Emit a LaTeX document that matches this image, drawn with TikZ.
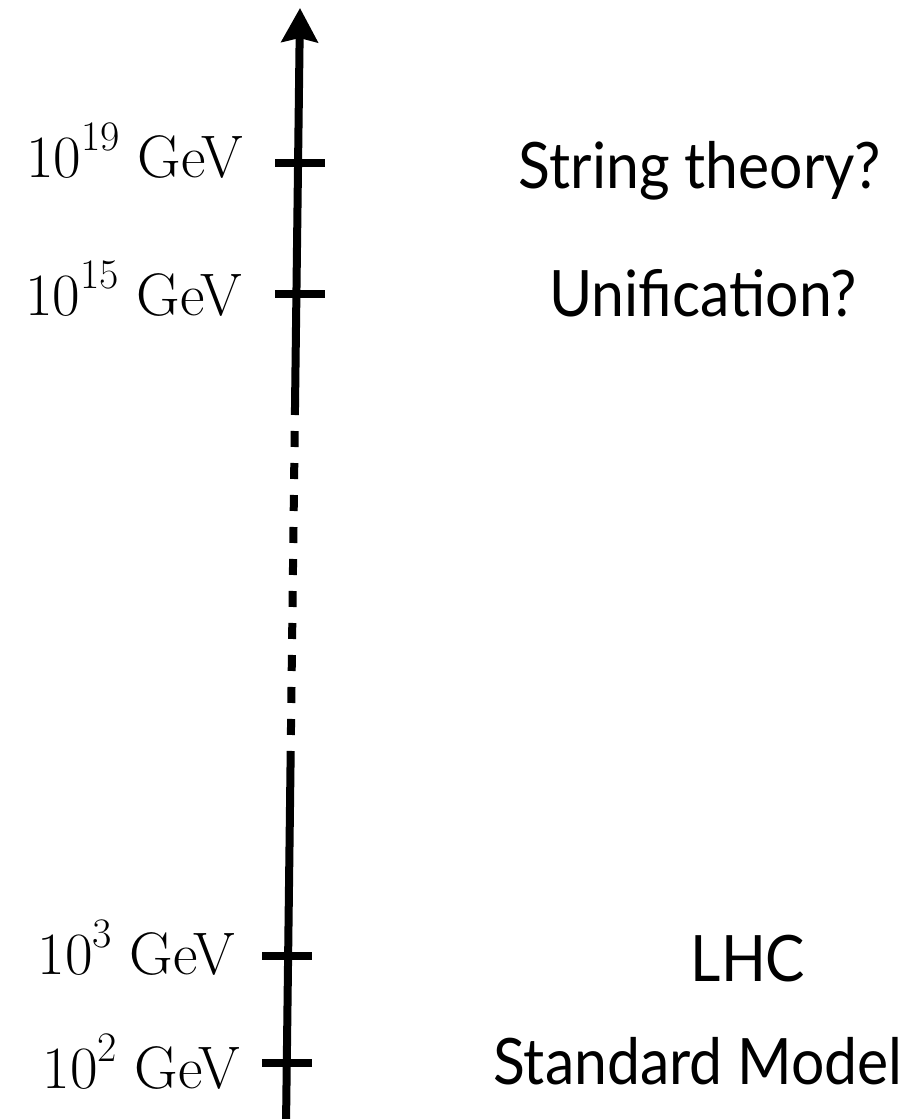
\documentclass[tikz,border=0pt]{standalone}
\usepackage{fontspec}
\newfontfamily\gillish[FakeStretch=0.92]{Lato}
\usetikzlibrary{arrows.meta}
\newcommand{\powten}[1]{10\raisebox{0.44em}{\fontsize{42}{44}\selectfont #1}}
\begin{document}
\begin{tikzpicture}[x=1pt,y=-1pt,
  axis/.style={line width=8pt},
  tick/.style={line width=8pt},
  elabel/.style={anchor=base east,inner sep=0pt,font=\fontsize{60}{66}\selectfont},
  rlabel/.style={anchor=base,inner sep=0pt,font=\gillish\fontsize{64}{70}\selectfont}]
\useasboundingbox (0,0) rectangle (910,1119);
% axis coordinates
\coordinate (bot) at (286,1125);
\coordinate (d1) at (290.5,767);
\coordinate (d2) at (295.1,399);
\coordinate (top) at (300,8);
\draw[axis] (bot) -- (d1);
\draw[axis,dash pattern=on 16pt off 16pt] (d2) -- (d1);
\draw[axis,-{Stealth[length=34pt,width=36pt,inset=4pt]}] (d2) -- (top);
% ticks
\coordinate (t19a) at (275,163); \coordinate (t19b) at (325,163);
\coordinate (t15a) at (275,294); \coordinate (t15b) at (325,294);
\coordinate (t3a) at (262,956); \coordinate (t3b) at (312,956);
\coordinate (t2a) at (262,1063); \coordinate (t2b) at (312,1063);
\draw[tick] (t19a) -- (t19b);
\draw[tick] (t15a) -- (t15b);
\draw[tick] (t3a) -- (t3b);
\draw[tick] (t2a) -- (t2b);
% energy labels
\node[elabel] (e19) at (243,177) {\powten{19} GeV};
\node[elabel] (e15) at (242,315) {\powten{15} GeV};
\node[elabel] (e3) at (235,974) {\powten{3} GeV};
\node[elabel] (e2) at (240,1088) {\powten{2} GeV};
% physics labels
\node[rlabel] (st) at (700,188) {String theory?};
\node[rlabel] (un) at (703,316) {Unification?};
\node[rlabel] (lhc) at (748,981) {LHC};
\node[rlabel] (sm) at (698,1084) {Standard Model};
\end{tikzpicture}
\end{document}
